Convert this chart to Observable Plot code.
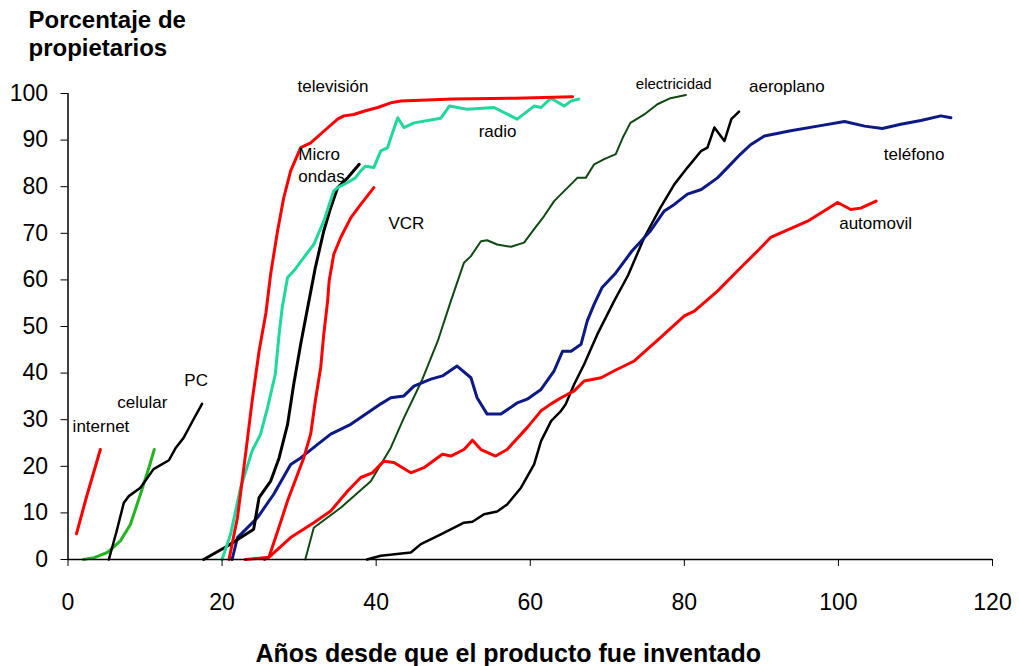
<!DOCTYPE html>
<html><head><meta charset="utf-8">
<script src="https://cdn.jsdelivr.net/npm/d3@7"></script>
<script src="https://cdn.jsdelivr.net/npm/@observablehq/plot@0.6"></script>
<style>body{margin:0;background:#fff} svg{display:block}</style>
</head><body><div id="chart"></div>
<script>
// ---- data ----
const xTicks = [0, 20, 40, 60, 80, 100, 120];
const yTicks = [0, 10, 20, 30, 40, 50, 60, 70, 80, 90, 100];

const internet = [[1.1,5.5],[2.0,11],[2.5,14],[3.3,18.5],[4.2,23.6]];
const celular = [[2.0,0],[3.4,0.4],[5.1,1.5],[6.8,4],[8.1,7.5],[9.4,14],[10.5,19.7],[11.2,23.6]];
const pc = [[5.3,0],[6.3,6],[7.25,12.2],[7.9,13.6],[9.4,15.4],[11.1,19.4],[13.1,21.3],[14,24],[15,26.1],[16.3,30.1],[17.4,33.4]];
const microondas = [[17.6,0],[20.7,2.9],[24.1,6.5],[24.8,13.3],[26.3,16.8],[27.4,21.8],[28.5,29],[29.3,37.6],[30.2,46.2],[31.1,54],[32.1,62.6],[33.2,70.5],[34.1,75.5],[35,79.8],[36.3,81.9],[37.8,84.8]];
const television = [[20.9,0],[22,9],[23.1,23.3],[23.9,34],[24.8,44.7],[25.7,53],[26.3,61.2],[27.2,70.5],[28,77.6],[28.9,83.4],[30.2,88.4],[31.5,89.4],[33.2,91.9],[35,94.5],[35.8,95.2],[37.1,95.5],[38.4,96.2],[40.2,97],[41.9,98],[43.2,98.4],[50,98.8],[58,99],[65.5,99.3]];
const radio = [[20,0],[21.1,5.4],[22.4,15.4],[23.9,23.3],[25,26.9],[25.9,32.6],[26.9,39.7],[27.4,48.3],[27.8,54],[28.5,60.5],[29.3,61.9],[30.6,64.8],[31.9,67.6],[33.2,72.6],[34.5,79.1],[35,79.8],[36.3,80.9],[37.3,81.9],[38,83.4],[38.6,84.4],[39.7,84.1],[40.6,87.7],[41.5,88.4],[41.9,90.5],[42.8,94.8],[43.6,92.7],[44.9,93.7],[48.4,94.7],[49.5,97.3],[51.8,96.6],[55.3,97],[58.3,94.5],[60.5,97.3],[61.4,97],[62.7,99],[64.4,97.3],[65.3,98.4],[66.3,98.8]];
const vcr = [[25.5,0],[26.1,0.6],[27.3,6.5],[28.5,12.6],[29.8,18.3],[30.6,21.8],[31.5,26.9],[32.1,34],[32.8,41.2],[33.2,48.3],[33.7,55.5],[33.9,59.8],[34.5,65.5],[35.4,69.1],[36.7,73.3],[38,76.2],[39.7,79.8]];
const automovil = [[23,0],[26.1,0.5],[28.9,4.7],[31.9,7.9],[34.1,10.4],[36.3,14.7],[38,17.6],[39.5,18.6],[41,21.1],[42.3,20.8],[44.5,18.6],[46.2,19.7],[48.6,22.6],[49.7,22.2],[51.4,23.6],[52.5,25.6],[53.6,23.6],[55.5,22.2],[57,23.6],[59.6,28.3],[61.4,31.9],[62.7,33.4],[64,34.7],[65.7,36.2],[67,38.3],[69.2,39],[70.9,40.5],[73.5,42.6],[76.9,47.6],[80,52.3],[81.3,53.3],[84.3,57.6],[87.3,62.6],[89.5,66.2],[91.2,69.1],[96,72.6],[99.9,76.6],[101.6,75.1],[102.9,75.4],[104.9,76.9]];
const telefono = [[21.3,0],[22,4.7],[24.6,9],[26.7,14],[28.9,20.4],[30.2,21.8],[32.4,24.7],[34.1,26.9],[36.7,29],[38.9,31.5],[40.6,33.4],[41.9,34.7],[43.6,35.1],[44.9,37.2],[47.1,38.7],[48.6,39.4],[50.5,41.5],[52.3,39],[53.1,34.7],[54.4,31.2],[56.2,31.2],[58.3,33.6],[59.6,34.4],[61.4,36.5],[63.1,40.5],[64.2,44.7],[65.3,44.7],[66.6,46.2],[67.4,51.2],[68.3,54.8],[69.3,58.3],[71.1,61.5],[73.2,66.2],[75.6,70.5],[77.4,74.8],[78.7,76.2],[80.4,78.4],[82.2,79.4],[84.3,81.9],[85.6,84.1],[87.3,87],[88.6,89],[90.4,90.9],[93.8,92],[97.3,93],[100.8,94],[103.4,93],[105.7,92.5],[108.1,93.4],[110.7,94.2],[113.3,95.2],[114.6,94.8]];
const electricidad = [[30.8,0],[31.9,6.8],[35.4,11.1],[39.3,16.8],[41.9,24],[43.6,30.4],[45.9,38.3],[48,46.9],[49.7,55.5],[51.4,63.7],[52.3,65.1],[53.6,68.3],[54.4,68.5],[55.7,67.6],[57.5,67.1],[59.2,68],[60.5,70.9],[61.8,73.7],[63.1,76.9],[64,78.4],[65.7,81.2],[66.1,81.9],[67.2,81.9],[68.3,84.8],[69.6,85.9],[71.1,87],[72,90.5],[73,93.7],[74.8,95.5],[76.5,97.7],[78.2,99],[80.2,99.7]];
const aeroplano = [[38.8,0],[40.6,0.8],[44.5,1.5],[45.8,3.3],[48.4,5.4],[51.4,7.9],[52.5,8.1],[54,9.7],[55.7,10.3],[57,11.8],[58.8,15.4],[60.5,20.4],[61.4,25.4],[62.7,29.7],[64,31.9],[64.6,33.3],[65.7,37.6],[67,41.9],[68.7,48.3],[70.9,55.5],[72.7,61],[74.8,69.1],[76.9,75.5],[78.7,80.5],[80.4,84.1],[82.2,87.7],[83,88.4],[83.9,92.7],[85.2,89.8],[86.1,94.5],[87.1,96.1]];

const labelNames = ["internet","celular","PC","televisión","Micro","ondas","VCR","radio","electricidad","aeroplano","teléfono","automovil"];
const labelX = [0.6, 6.4, 15.1, 29.8, 29.9, 29.9, 41.6, 53.3, 73.7, 88.4, 105.9, 100.1];
const labelY = [28.6, 33.6, 38.5, 101.4, 87, 82.1, 72.2, 91.9, 102, 101.4, 86.8, 72.2];

// ---- series styles ----
const series = [
  {data: electricidad, color: "#0e4a12", w: 2},
  {data: aeroplano, color: "#000000", w: 2.5},
  {data: automovil, color: "#ff0000", w: 3},
  {data: telefono, color: "#0b1a84", w: 3},
  {data: internet, color: "#ff0000", w: 3},
  {data: celular, color: "#22b422", w: 3},
  {data: pc, color: "#000000", w: 2.5},
  {data: vcr, color: "#ff0000", w: 3},
  {data: microondas, color: "#000000", w: 3},
  {data: radio, color: "#1ed89c", w: 3},
  {data: television, color: "#ff0000", w: 3}
];

const labels = labelNames.map((t, i) => ({t, x: labelX[i], y: labelY[i]}));

const font = "'Liberation Sans', Arial, Helvetica, sans-serif";

const marks = [
  ...series.map(s => Plot.line(s.data, {x: d => d[0], y: d => d[1], stroke: s.color, strokeWidth: s.w, strokeLinejoin: "round", strokeLinecap: "round"})),
  Plot.ruleX([0], {stroke: "black", strokeWidth: 1.5}),
  Plot.ruleY([0], {stroke: "black", strokeWidth: 1.5}),
  Plot.axisX({ticks: xTicks, tickSize: 7, tickPadding: 27, fontSize: 23, label: null, tickFormat: d => String(d)}),
  Plot.axisY({ticks: yTicks, tickSize: 7, tickPadding: 13, fontSize: 23, label: null, tickFormat: d => String(d)}),
  Plot.text(labels.filter(d => d.t !== "electricidad"), {x: "x", y: "y", text: "t", textAnchor: "start", fontSize: 17, fill: "black"}),
  Plot.text(labels.filter(d => d.t === "electricidad"), {x: "x", y: "y", text: "t", textAnchor: "start", fontSize: 15, fill: "black"}),
  Plot.text(["Porcentaje de\npropietarios"], {frameAnchor: "top-left", textAnchor: "start", lineAnchor: "top", dx: -39.5, dy: -85, fontSize: 24, fontWeight: "bold", lineHeight: 1.15, fill: "black"}),
  Plot.text(["Años desde que el producto fue inventado"], {frameAnchor: "bottom", textAnchor: "middle", lineAnchor: "middle", dx: -22, dy: 94, fontSize: 25, fontWeight: "bold", fill: "black"})
];

const chart = Plot.plot({
  width: 1019,
  height: 666,
  marginLeft: 67.5,
  marginRight: 27,
  marginTop: 93,
  marginBottom: 107,
  x: {domain: [0, 120]},
  y: {domain: [0, 100]},
  style: {fontFamily: font, background: "white", color: "black", overflow: "visible"},
  marks
});
document.getElementById("chart").appendChild(chart);
</script></body></html>
